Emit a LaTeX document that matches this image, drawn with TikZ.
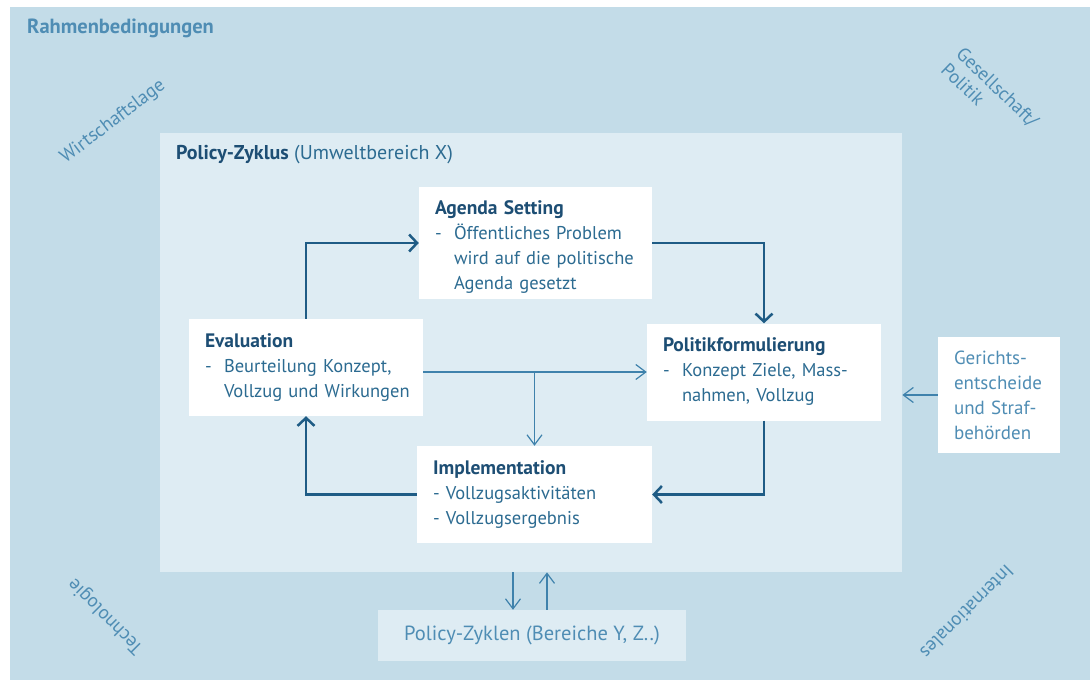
\documentclass[tikz,border=0pt]{standalone}
\usepackage{fontspec}
\setmainfont{PT Sans}
\usetikzlibrary{arrows.meta,positioning}
\definecolor{rahmenblau}{HTML}{C3DCE8}
\definecolor{zyklusblau}{HTML}{DEECF3}
\definecolor{navy}{HTML}{1D4E74}
\definecolor{textblau}{HTML}{2C6B91}
\definecolor{hellblau}{HTML}{4F8DB4}
\definecolor{pfeilblau}{HTML}{1F5C85}
\definecolor{duennblau}{HTML}{3F82AC}
\newcommand{\titel}[1]{\mbox{\textcolor{navy}{\fontsize{19.5}{25}\selectfont\bfseries #1}}}
\newcommand{\punkt}[1]{\mbox{\makebox[19pt][l]{-}#1}}
\newcommand{\weiter}[1]{\mbox{\hspace*{19pt}#1}}
\tikzset{
        flaeche/.style={rectangle, anchor=north west, inner sep=0pt},
        % Phases of the cycle
        phase/.style={rectangle, fill=white, align=left, inner xsep=16pt, inner ysep=0pt, text=textblau, font=\fontsize{18.5}{25}\selectfont},
        % Outside influences
        einfluss/.style={rectangle, align=left, inner sep=0pt, text=hellblau, font=\fontsize{19}{25}\selectfont},
        % Rotated labels in the corners
        ecke/.style={inner sep=0pt, text=hellblau, font=\fontsize{19}{22}\selectfont, align=left},
        dick/.style={pfeilblau, line width=2.5pt, -{Straight Barb[length=8pt,width=17pt]}},
        duenn/.style={duennblau, line width=1.2pt, -{Straight Barb[length=10pt,width=15pt]}}
}
\begin{document}
\begin{tikzpicture}[x=1pt, y=-1pt]
            \useasboundingbox (0,0) rectangle (1090,680);
            \fill[white] (0,0) rectangle (1090,680);
            \node[flaeche, fill=rahmenblau, minimum width=1080, minimum height=673] (rahmen) at (10,7) {};
            \node[flaeche, fill=zyklusblau, minimum width=742, minimum height=439] (zyklus) at (160,133) {};
            \node[anchor=west, inner sep=0pt, text=hellblau, font=\fontsize{20.5}{22}\selectfont\bfseries] (rahmentitel) at (27,28) {Rahmenbedingungen};
            \node[anchor=west, inner sep=0pt, text=textblau, font=\fontsize{20}{22}\selectfont] (zyklustitel) at (176,155) {\textcolor{navy}{\bfseries Policy-Zyklus} (Umweltbereich X)};
            % corner labels
            \node[ecke, rotate=37] (wirtschaft) at (113,122) {Wirtschaftslage};
            \node[ecke, rotate=-44] (gesellschaft) at (990,95) {Gesellschaft/\\Politik};
            \node[ecke, rotate=135] (technologie) at (106,616) {Technologie};
            \node[ecke, rotate=-135] (international) at (967,612) {Internationales};
            % phases
            \node[phase, minimum width=233, minimum height=112, text width=201] (agenda) at (535.5,243) {\rule{0pt}{21pt}\titel{Agenda Setting}\\\punkt{Öffentliches Problem}\\\weiter{wird auf die politische}\\\weiter{Agenda gesetzt}};
            \node[phase, minimum width=234, minimum height=97, text width=202] (politik) at (764,372) {\titel{Politikformulierung}\\\punkt{Konzept Ziele, Mass-}\\\weiter{nahmen, Vollzug}};
            \node[phase, minimum width=235, minimum height=97, text width=203] (impl) at (534.5,494.5) {\titel{Implementation}\\\mbox{- Vollzugsaktivitäten}\\\mbox{- Vollzugsergebnis}};
            \node[phase, minimum width=234, minimum height=97, text width=202] (eval) at (306,367.5) {\titel{Evaluation}\\\punkt{Beurteilung Konzept,}\\\weiter{Vollzug und Wirkungen}};
            % outside
            \node[einfluss, fill=white, minimum width=122, minimum height=116, inner xsep=16pt, text width=90] (gericht) at (999,395) {Gerichts-\\entscheide\\und Straf-\\behörden};
            \node[einfluss, fill=zyklusblau, minimum width=308, minimum height=51, align=center, font=\fontsize{20.5}{25}\selectfont] (zyklen) at (532,635.5) {Policy-Zyklen (Bereiche Y, Z..)};
            % cycle
            \draw[dick] (eval.north) |- (agenda.west);
            \draw[dick] (agenda.east) -| (politik.north);
            \draw[dick] (politik.south) |- (impl.east);
            \draw[dick] (impl.west) -| (eval.south);
            \draw[duenn] (eval.east |- politik.west) -- (politik.west);
            \coordinate (abzweig) at (impl.north |- politik.west);
            \draw[duenn] (abzweig) -- (impl.north);
            \draw[duenn] (gericht.west) -- (gericht.west -| zyklus.east);
            \draw[duenn] ([xshift=-19pt]zyklen.north |- zyklus.south) -- ([xshift=-19pt]zyklen.north);
            \draw[duenn] ([xshift=15pt]zyklen.north) -- ([xshift=15pt]zyklen.north |- zyklus.south);
\end{tikzpicture}
\end{document}
